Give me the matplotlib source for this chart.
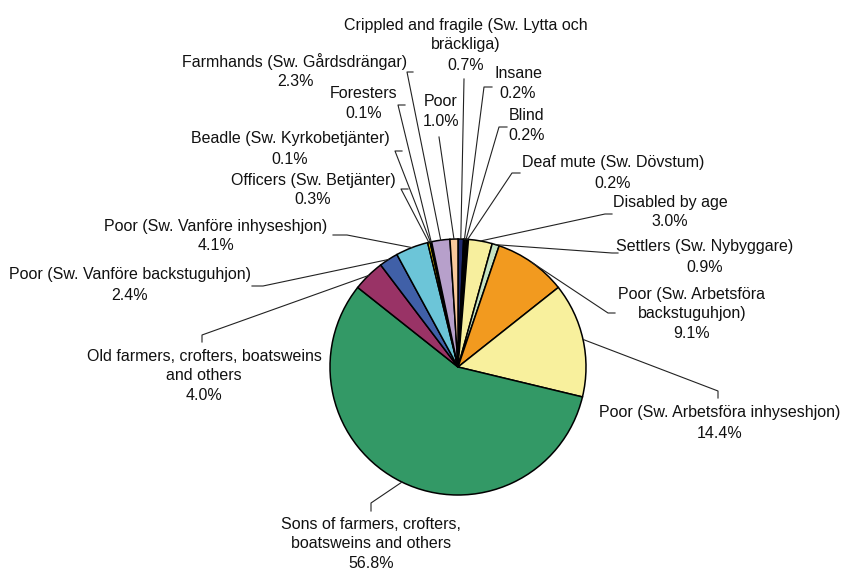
import numpy as np
import matplotlib.pyplot as plt

plt.rcParams['font.family'] = ['Liberation Sans', 'DejaVu Sans']

labels = [
    "Crippled and fragile (Sw. Lytta och\nbräckliga)",
    "Insane",
    "Blind",
    "Deaf mute (Sw. Dövstum)",
    "Disabled by age",
    "Settlers (Sw. Nybyggare)",
    "Poor (Sw. Arbetsföra\nbackstuguhjon)",
    "Poor (Sw. Arbetsföra inhyseshjon)",
    "Sons of farmers, crofters,\nboatsweins and others",
    "Old farmers, crofters, boatsweins\nand others",
    "Poor (Sw. Vanföre backstuguhjon)",
    "Poor (Sw. Vanföre inhyseshjon)",
    "Officers (Sw. Betjänter)",
    "Beadle (Sw. Kyrkobetjänter)",
    "Foresters",
    "Farmhands (Sw. Gårdsdrängar)",
    "Poor",
]
values = [0.7, 0.2, 0.2, 0.2, 3.0, 0.9, 9.1, 14.4, 56.8, 4.0, 2.4, 4.1, 0.3, 0.1, 0.1, 2.3, 1.0]
colors = ['#1f2a6e', '#141414', '#b8c900', '#2f4f1f', '#f7ef9e', '#c6e3c2', '#f29a1f',
          '#f8f09d', '#339966', '#993366', '#4060a8', '#6cc5d8', '#ffe100', '#f0f0f0',
          '#ffffff', '#b7a0cb', '#f9c99c']

# layout (pixel coords, y from top): x centre and y of the percentage line
W, H = 844, 570
cx, cy, R = 458, 367, 128
pitch = 20
text_pos = [(466, 65), (518, 94), (527, 135), (613, 183), (670, 222), (705, 267),
            (692, 334), (720, 433), (371, 564), (204, 396), (130, 295), (216, 246),
            (313, 200), (290, 159), (364, 113), (295, 82), (441, 121)]
leaders = [
    [(464, 79)],
    [(492, 87), (484, 87)],
    [(507, 127), (499, 127)],
    [(520, 173), (512, 173)],
    [(612, 214), (605, 214)],
    [(618, 253), (612, 253)],
    [(615, 313), (608, 313)],
    [(718, 398), (718, 391)],
    [(371, 511), (371, 503)],
    [(202, 342), (202, 335)],
    [(252, 286), (263, 286)],
    [(333, 235), (347, 235)],
    [(408, 189), (401, 189)],
    [(402, 151), (395, 151)],
    [(405, 105), (398, 105)],
    [(413, 72), (407, 72)],
    [(439, 137)],
]

fig = plt.figure(figsize=(W / 100, H / 100), dpi=100)
ax = fig.add_axes([0, 0, 1, 1])

wedges, _ = ax.pie(values, colors=colors, startangle=90, counterclock=False,
                   center=(cx, H - cy), radius=R, normalize=True,
                   wedgeprops=dict(edgecolor='black', linewidth=1.1))
ax.set_xlim(0, W)
ax.set_ylim(0, H)
ax.set_aspect('equal')
ax.axis('off')

for w, lab, v, (tx, ty), pts in zip(wedges, labels, values, text_pos, leaders):
    mid = np.deg2rad((w.theta1 + w.theta2) / 2)
    ex = cx + R * np.cos(mid)
    ey = (H - cy) + R * np.sin(mid)
    xs = [p[0] for p in pts] + [ex]
    ys = [H - p[1] for p in pts] + [ey]
    ax.plot(xs, ys, color='#222222', lw=0.8)
    k = lab.count('\n') + 1
    ax.text(tx, H - ty, f"{v:.1f}%", ha='center', va='center',
            fontsize=11.5, color='#111111')
    ax.text(tx, H - (ty - pitch * (k + 1) / 2), lab, ha='center', va='center',
            fontsize=11.5, linespacing=1.33, color='#111111')

fig.savefig('out.png', dpi=100)
